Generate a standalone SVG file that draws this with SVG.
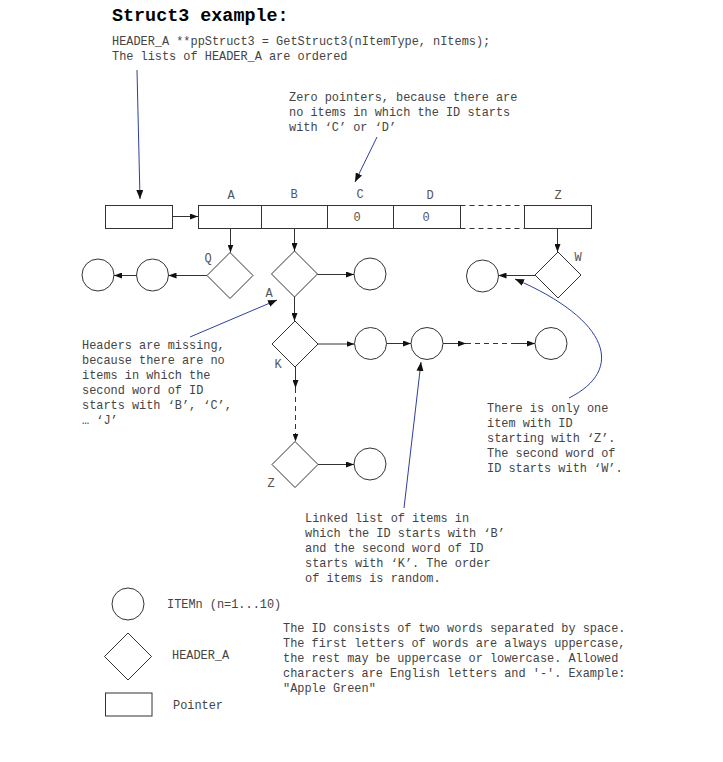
<svg xmlns="http://www.w3.org/2000/svg" width="723" height="762" viewBox="0 0 723 762">
<style>
.t{font-family:"Liberation Mono","Courier New",monospace;font-size:11.9px;fill:#444}
.l{font-family:"Liberation Mono","Courier New",monospace;font-size:12px;fill:#555}
.title{font-family:"Liberation Mono","Courier New",monospace;font-size:18.4px;font-weight:bold;fill:#000}
.s{fill:#fff;stroke:#333;stroke-width:1}
.c{fill:none;stroke:#333;stroke-width:1}
.d{fill:none;stroke:#333;stroke-width:1;stroke-dasharray:5,4}
.b{fill:none;stroke:#2e3f9e;stroke-width:1}
</style>
<defs>
<marker id="ah" viewBox="0 0 8 6" refX="8" refY="3" markerWidth="8" markerHeight="6" orient="auto" markerUnits="userSpaceOnUse"><path d="M0,0 L8,3 L0,6 z" fill="#111"/></marker>
<marker id="bh" viewBox="0 0 9 7" refX="9" refY="3.5" markerWidth="9" markerHeight="7" orient="auto" markerUnits="userSpaceOnUse"><path d="M0,0 L9,3.5 L0,7 z" fill="#111"/></marker>
<circle id="item" r="16" class="s"/>
<path id="hdr" d="M0,-23 L23,0 L0,23 L-23,0 z" class="s"/>
</defs>
<rect width="723" height="762" fill="#fff"/>

<g id="texts">
<text class="title" x="112" y="21">Struct3 example:</text>
<text class="t" x="112" y="45">HEADER_A **ppStruct3 = GetStruct3(nItemType, nItems);</text>
<text class="t" x="112" y="60">The lists of HEADER_A are ordered</text>
<text class="t" x="289" y="101">Zero pointers, because there are</text>
<text class="t" x="289" y="116">no items in which the ID starts</text>
<text class="t" x="289" y="131">with ‘C’ or ‘D’</text>
<text class="t" x="82" y="349">Headers are missing,</text>
<text class="t" x="82" y="364">because there are no</text>
<text class="t" x="82" y="379">items in which the</text>
<text class="t" x="82" y="394">second word of ID</text>
<text class="t" x="82" y="409">starts with ‘B’, ‘C’,</text>
<text class="t" x="82" y="424">… ‘J’</text>
<text class="t" x="487" y="412">There is only one</text>
<text class="t" x="487" y="427">item with ID</text>
<text class="t" x="487" y="442">starting with ‘Z’.</text>
<text class="t" x="487" y="457">The second word of</text>
<text class="t" x="487" y="472">ID starts with ‘W’.</text>
<text class="t" x="305" y="522">Linked list of items in</text>
<text class="t" x="305" y="537">which the ID starts with ‘B’</text>
<text class="t" x="305" y="552">and the second word of ID</text>
<text class="t" x="305" y="567">starts with ‘K’. The order</text>
<text class="t" x="305" y="582">of items is random.</text>
<text class="t" x="283" y="632">The ID consists of two words separated by space.</text>
<text class="t" x="283" y="647">The first letters of words are always uppercase,</text>
<text class="t" x="283" y="662">the rest may be uppercase or lowercase. Allowed</text>
<text class="t" x="283" y="677">characters are English letters and '-'. Example:</text>
<text class="t" x="283" y="692">"Apple Green"</text>
</g>

<g id="pointer">
<rect x="105.5" y="205.5" width="67" height="23" class="s"/>
</g>
<g id="array">
<rect x="198.5" y="205.5" width="262" height="23" class="s"/>
<line x1="261.5" y1="205.5" x2="261.5" y2="228.5" class="c"/>
<line x1="327.5" y1="205.5" x2="327.5" y2="228.5" class="c"/>
<line x1="393.5" y1="205.5" x2="393.5" y2="228.5" class="c"/>
<text class="l" x="231" y="199" text-anchor="middle">A</text>
<text class="l" x="294" y="198" text-anchor="middle">B</text>
<text class="l" x="360" y="198" text-anchor="middle">C</text>
<text class="l" x="430" y="199" text-anchor="middle">D</text>
<text class="l" x="357" y="221" text-anchor="middle">0</text>
<text class="l" x="426" y="221" text-anchor="middle">0</text>
<line x1="460.5" y1="205.5" x2="524.5" y2="205.5" class="d"/>
<line x1="460.5" y1="228.5" x2="524.5" y2="228.5" class="d"/>
<rect x="524.5" y="205.5" width="67" height="23" class="s"/>
<text class="l" x="558" y="199" text-anchor="middle">Z</text>
</g>

<g id="hdrQ"><use href="#hdr" x="230" y="275.5"/><text class="l" x="208" y="262" text-anchor="middle">Q</text></g>
<g id="item1"><use href="#item" x="98" y="275"/></g>
<g id="item2"><use href="#item" x="152.5" y="275"/></g>
<g id="hdrA"><use href="#hdr" x="294.5" y="274"/><text class="l" x="269" y="297" text-anchor="middle">A</text></g>
<g id="item3"><use href="#item" x="370" y="274"/></g>
<g id="hdrK"><use href="#hdr" x="295" y="344"/><text class="l" x="278" y="368" text-anchor="middle">K</text></g>
<g id="item4"><use href="#item" x="370.5" y="343.5"/></g>
<g id="item5"><use href="#item" x="427" y="343.5"/></g>
<g id="item6"><use href="#item" x="551" y="343.5"/></g>
<g id="hdrZ"><use href="#hdr" x="295" y="464.5"/><text class="l" x="271" y="487" text-anchor="middle">Z</text></g>
<g id="item7"><use href="#item" x="370" y="464"/></g>
<g id="hdrW"><use href="#hdr" x="558" y="275"/><text class="l" x="578" y="261" text-anchor="middle">W</text></g>
<g id="item8"><use href="#item" x="482.5" y="276"/></g>

<g id="legend">
<use href="#item" x="128" y="604"/>
<text class="t" x="167" y="608">ITEMn (n=1...10)</text>
<path d="M128,633 L151.5,656.5 L128,680 L104.5,656.5 z" class="s"/>
<text class="t" x="172" y="659">HEADER_A</text>
<rect x="105.5" y="693" width="46.5" height="23" class="s"/>
<text class="t" x="173" y="709">Pointer</text>
</g>

<g id="connectors">
<line x1="172.5" y1="216.5" x2="198" y2="216.5" class="c" marker-end="url(#ah)"/>
<line x1="230.5" y1="228.5" x2="230.5" y2="252.5" class="c" marker-end="url(#ah)"/>
<line x1="294.5" y1="228.5" x2="294.5" y2="251" class="c" marker-end="url(#ah)"/>
<line x1="557.5" y1="228.5" x2="557.5" y2="252" class="c" marker-end="url(#ah)"/>
<line x1="207" y1="275.5" x2="168.5" y2="275.5" class="c" marker-end="url(#ah)"/>
<line x1="136.5" y1="275.5" x2="114" y2="275.5" class="c" marker-end="url(#ah)"/>
<line x1="317.5" y1="274.5" x2="354" y2="274.5" class="c" marker-end="url(#ah)"/>
<line x1="535" y1="275.5" x2="498.5" y2="275.5" class="c" marker-end="url(#ah)"/>
<line x1="294.5" y1="297" x2="294.5" y2="321" class="c" marker-end="url(#ah)"/>
<line x1="318" y1="344" x2="354.5" y2="344" class="c" marker-end="url(#ah)"/>
<line x1="386.5" y1="343.5" x2="411" y2="343.5" class="c" marker-end="url(#ah)"/>
<line x1="443" y1="343.5" x2="466" y2="343.5" class="c" marker-end="url(#ah)"/>
<line x1="466" y1="343.5" x2="512" y2="343.5" class="d"/>
<line x1="512" y1="343.5" x2="535" y2="343.5" class="c" marker-end="url(#ah)"/>
<line x1="295.5" y1="367" x2="295.5" y2="388" class="c" marker-end="url(#ah)"/>
<line x1="295.5" y1="388" x2="295.5" y2="441.5" class="d" marker-end="url(#ah)"/>
<line x1="318" y1="464.5" x2="354" y2="464.5" class="c" marker-end="url(#ah)"/>
<line x1="137" y1="70" x2="140" y2="199" class="b" marker-end="url(#bh)"/>
<line x1="377" y1="137" x2="355" y2="182" class="b" marker-end="url(#bh)"/>
<line x1="190" y1="337" x2="277" y2="300" class="b" marker-end="url(#bh)"/>
<line x1="404" y1="508" x2="421" y2="362" class="b" marker-end="url(#bh)"/>
<path d="M569,398 C625,370 610,320 515,279" class="b" marker-end="url(#bh)"/>
</g>
</svg>
